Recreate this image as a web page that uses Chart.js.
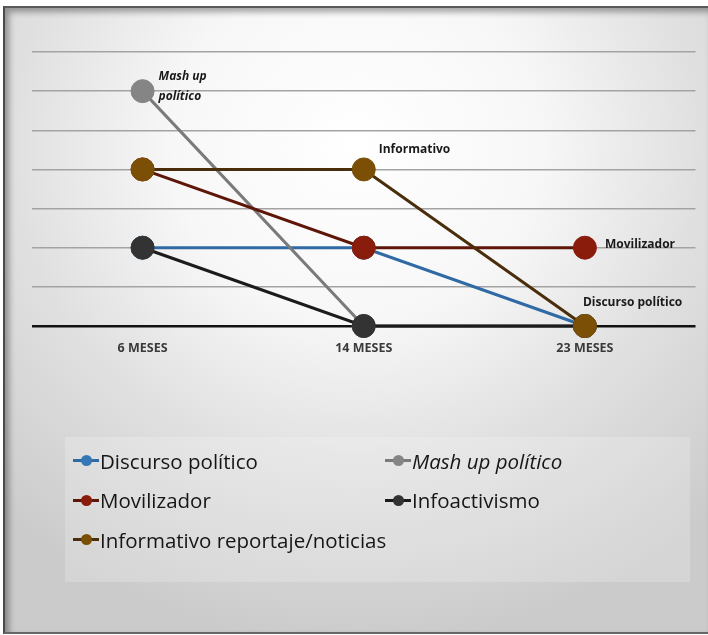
<!DOCTYPE html>
<html lang="es">
<head>
<meta charset="utf-8">
<title>Evolución de tipos de contenido</title>
<script src="https://cdn.jsdelivr.net/npm/chart.js@4.4.1/dist/chart.umd.min.js"></script>
<style>
  html, body { margin: 0; padding: 0; background: #ffffff; }
  body { width: 708px; height: 635px; position: relative; overflow: hidden; }
  #slide {
    position: absolute; left: 3px; top: 6px; right: 0; bottom: 1px;
    background: radial-gradient(ellipse 75% 80% at 50% 22%, #ffffff 0%, #f7f7f7 35%, #e0e0e0 65%, #cbcbcb 100%);
    border-top: 2px solid #5a5a5a; border-left: 2px solid #4a4a4a; border-bottom: 2px solid #666;
    box-shadow: inset 4px 4px 6px rgba(0,0,0,0.35);
  }
  #chart { position: absolute; left: 0; top: 0; }
  #legend {
    position: absolute; left: 65px; top: 437px; width: 625px; height: 145px;
    background: rgba(255,255,255,0.2);
    display: grid; grid-template-columns: 312px 1fr; grid-auto-rows: 39.5px;
    padding: 4px 0 0 8px; box-sizing: border-box;
    font-family: "Open Sans", Lato, sans-serif; font-size: 20.5px; color: #161616;
  }
  .item { display: flex; align-items: center; white-space: nowrap; }
  .mark { position: relative; width: 26px; height: 12px; margin-right: 1px; flex: none; }
  .mark .ln { position: absolute; left: 0; right: 0; top: 4.5px; height: 3px; }
  .mark .dot { position: absolute; left: 7.5px; top: 0.5px; width: 11px; height: 11px; border-radius: 50%; }
</style>
</head>
<body>
<div id="slide"></div>
<canvas id="chart" width="708" height="635"></canvas>
<div id="legend"></div>
<script>
// Periods on the horizontal axis
const categories = ['6 MESES', '14 MESES', '23 MESES'];

// Level reached by each content type in each period
const discursoPolitico = [2, 2, 0];
const mashUpPolitico   = [6, 0, 0];
const movilizador      = [4, 2, 2];
const infoactivismo    = [2, 0, 0];
const informativo      = [4, 4, 0];

// Series names shown in the legend
const seriesNames = [
  'Discurso político',
  'Mash up político',
  'Movilizador',
  'Infoactivismo',
  'Informativo reportaje/noticias'
];

// Levels of the horizontal guide lines
const levelTicks = [0, 1, 2, 3, 4, 5, 6, 7];

// Labels written next to single points
const noteTexts = [
  ['Mash up', 'político'],
  ['Informativo'],
  ['Movilizador'],
  ['Discurso político']
];

const seriesValues = [discursoPolitico, mashUpPolitico, movilizador, infoactivismo, informativo];
const lineColors  = ['#2f6aa5', '#7a7a7a', '#5e1609', '#1b1b1b', '#4a2e0c'];
const pointColors = ['#3677b8', '#858585', '#8a1c0b', '#333333', '#7b4f06'];
const drawOrder   = [4, 3, 2, 1, 0];   // informativo sits on top, discurso at the bottom
const legendItalic = [false, true, false, false, false];

const datasets = seriesNames.map((name, i) => ({
  label: name,
  data: seriesValues[i],
  borderColor: lineColors[i],
  backgroundColor: pointColors[i],
  pointBackgroundColor: pointColors[i],
  pointBorderColor: pointColors[i],
  pointBorderWidth: 1,
  pointRadius: 11.5,
  pointHoverRadius: 11.5,
  borderWidth: 3,
  tension: 0,
  clip: false,
  order: drawOrder[i]
}));

// Which point each note belongs to, and where the text goes from that point
const notePlacement = [
  { dataset: 1, index: 0, dx: 16, dy: [-15, 5], italic: true },
  { dataset: 4, index: 1, dx: 15, dy: [-20], italic: false },
  { dataset: 2, index: 2, dx: 20, dy: [-3], italic: false },
  { dataset: 0, index: 2, dx: -2, dy: [-23], italic: false }
];

const pointNotes = {
  id: 'pointNotes',
  afterDatasetsDraw(chart) {
    const ctx = chart.ctx;
    ctx.save();
    ctx.fillStyle = '#1a1a1a';
    ctx.textBaseline = 'middle';
    ctx.textAlign = 'left';
    notePlacement.forEach((p, k) => {
      const el = chart.getDatasetMeta(p.dataset).data[p.index];
      ctx.font = (p.italic ? 'italic ' : '') + 'bold 12px "Open Sans", Lato, sans-serif';
      noteTexts[k].forEach((line, j) => {
        ctx.fillText(line, el.x + p.dx, el.y + p.dy[j]);
      });
    });
    ctx.restore();
  }
};

const chart = new Chart(document.getElementById('chart'), {
  type: 'line',
  data: { labels: categories, datasets },
  options: {
    responsive: false,
    animation: false,
    layout: { padding: { left: 32, right: 10, top: 52, bottom: 269 } },
    plugins: { legend: { display: false }, tooltip: { enabled: false } },
    scales: {
      x: {
        offset: true,
        grid: { display: false, drawTicks: false },
        border: { display: false },
        ticks: {
          padding: 15,
          color: '#3a3a3a',
          font: { family: '"Open Sans", Lato, sans-serif', size: 12.5, weight: 'bold' }
        },
        afterFit(scale) { scale.height = 40; }
      },
      y: {
        min: levelTicks[0],
        max: levelTicks[levelTicks.length - 1],
        afterBuildTicks(scale) { scale.ticks = levelTicks.map(v => ({ value: v })); },
        grid: {
          drawTicks: false,
          color: c => (c.tick && c.tick.value === 0) ? '#111111' : '#a3a3a3',
          lineWidth: c => (c.tick && c.tick.value === 0) ? 2.5 : 1.5
        },
        border: { display: false },
        ticks: { display: false },
        afterFit(scale) { scale.width = 0; }
      }
    }
  },
  plugins: [pointNotes]
});

// Two-column legend built from the chart's own datasets
const legend = document.getElementById('legend');
chart.data.datasets.forEach((ds, i) => {
  const item = document.createElement('div');
  item.className = 'item';
  const mark = document.createElement('span');
  mark.className = 'mark';
  const ln = document.createElement('span');
  ln.className = 'ln';
  ln.style.background = ds.borderColor;
  const dot = document.createElement('span');
  dot.className = 'dot';
  dot.style.background = ds.pointBackgroundColor;
  mark.appendChild(ln);
  mark.appendChild(dot);
  const txt = document.createElement('span');
  txt.textContent = ds.label;
  if (legendItalic[i]) txt.style.fontStyle = 'italic';
  item.appendChild(mark);
  item.appendChild(txt);
  legend.appendChild(item);
});
</script>
</body>
</html>
